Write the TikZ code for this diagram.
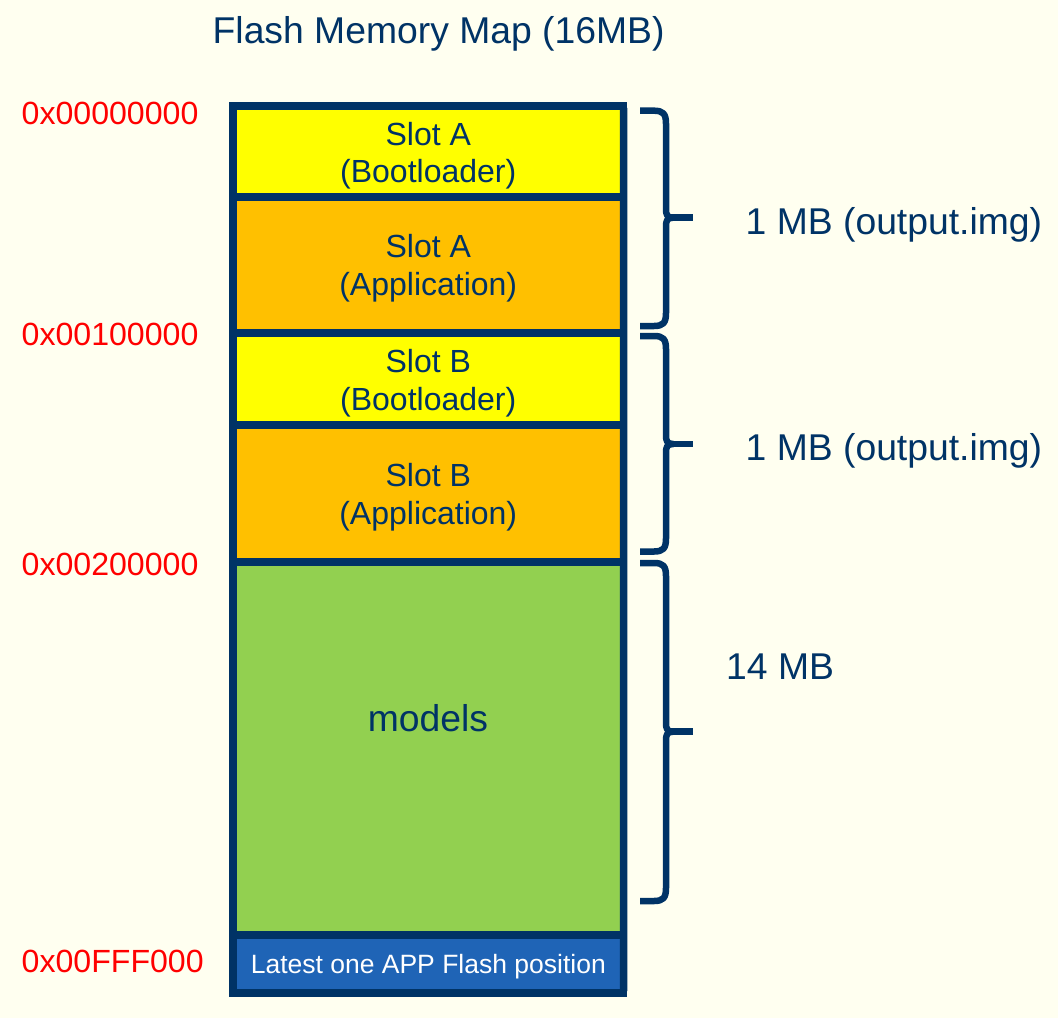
\documentclass[tikz,border=0pt]{standalone}
\usepackage{fontspec}
\setmainfont{Liberation Sans}
\definecolor{navy}{HTML}{003366}
\definecolor{bgc}{HTML}{FFFFF0}
\definecolor{slotyellow}{HTML}{FFFF00}
\definecolor{slotorange}{HTML}{FFC000}
\definecolor{modgreen}{HTML}{92D050}
\definecolor{lateblue}{HTML}{1F64B6}
\definecolor{addrred}{HTML}{FF0000}
\tikzset{
  sect/.style={draw=navy, line width=7.5pt, minimum width=390.5pt, inner sep=0pt, outer sep=0pt, anchor=center},
  slottxt/.style={text=navy, font=\fontsize{32}{38}\selectfont, anchor=base, inner sep=0pt},
  bigtxt/.style={text=navy, font=\fontsize{37.3}{44}\selectfont, inner sep=0pt},
  addrtxt/.style={text=addrred, font=\fontsize{32.1}{38}\selectfont, anchor=base west, inner sep=0pt},
  bracestyle/.style={draw=navy, line width=6.5pt, line join=round}
}
\newcommand\mmbrace[3]{%
  \draw[bracestyle] (640,#1) -- (654,#1) .. controls (663,#1) and (666,#1+3) .. (666,#1+13)
    -- (666,#2-9) .. controls (666,#2-3) and (667,#2) .. (673,#2)
    .. controls (667,#2) and (666,#2+3) .. (666,#2+9)
    -- (666,#3-13) .. controls (666,#3-3) and (663,#3) .. (654,#3) -- (640,#3);
  \draw[bracestyle] (671,#2) -- (692.5,#2);}
\begin{document}
\begin{tikzpicture}[x=1pt,y=-1pt]
  \fill[bgc] (0,0) rectangle (1058,1018);
  \useasboundingbox (0,0) rectangle (1058,1018);

  % title
  \node[bigtxt, anchor=base] (title) at (438.6,43.3) {Flash Memory Map (16MB)};

  % sections
  \node[sect, fill=slotyellow, minimum height=91pt] (sAb) at (428.25,151.5) {};
  \node[sect, fill=slotorange, minimum height=136pt] (sAa) at (428.25,265) {};
  \node[sect, fill=slotyellow, minimum height=92pt] (sBb) at (428.25,379) {};
  \node[sect, fill=slotorange, minimum height=136.8pt] (sBa) at (428.25,493.4) {};
  \node[sect, fill=modgreen, minimum height=373.2pt] (mdl) at (428.25,748.4) {};
  \node[sect, fill=lateblue, minimum height=58pt] (lat) at (428.25,964) {};
  \draw[navy, line width=7.5pt, rounded corners=3pt] (sAb.north west) rectangle (lat.south east);

  % section texts
  \node[slottxt] (tAb1) at (428.25,145) {Slot A};
  \node[slottxt] (tAb2) at (428.25,182.7) {(Bootloader)};
  \node[slottxt] (tAa1) at (428.25,257.7) {Slot A};
  \node[slottxt] (tAa2) at (428.25,295) {(Application)};
  \node[slottxt] (tBb1) at (428.25,372.5) {Slot B};
  \node[slottxt] (tBb2) at (428.25,410.5) {(Bootloader)};
  \node[slottxt] (tBa1) at (428.25,486.2) {Slot B};
  \node[slottxt] (tBa2) at (428.25,524) {(Application)};
  \node[bigtxt, anchor=base] (tmdl) at (428,731.7) {models};
  \node[text=white, font=\fontsize{26.5}{32}\selectfont, anchor=base, inner sep=0pt] (tlat) at (428.3,973.3) {Latest one APP Flash position};

  % addresses
  \node[addrtxt] (a0) at (21.5,124.3) {0x00000000};
  \node[addrtxt] (a1) at (21.5,345) {0x00100000};
  \node[addrtxt] (a2) at (21.5,575) {0x00200000};
  \node[addrtxt] (a3) at (21.5,972.7) {0x00FFF000};

  % braces
  \mmbrace{110.7}{217.7}{326}
  \mmbrace{336}{444}{551.5}
  \mmbrace{563}{731.7}{901}

  % sizes
  \node[bigtxt, anchor=base west] (s1) at (745.5,234.3) {1 MB (output.img)};
  \node[bigtxt, anchor=base west] (s2) at (745.5,460.6) {1 MB (output.img)};
  \node[bigtxt, anchor=base west] (s3) at (726,679.3) {14 MB};
\end{tikzpicture}
\end{document}
